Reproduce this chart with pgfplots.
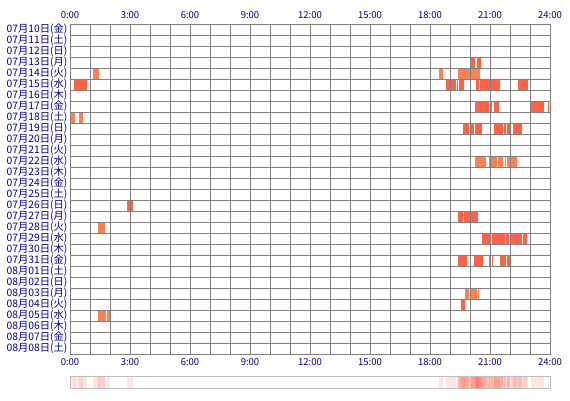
\documentclass[border=0pt]{standalone}
\usepackage{pgfplots}
\pgfplotsset{compat=1.18}
\usepackage{pgfplotstable}
\usepackage{fontspec}
\setmainfont{Noto Sans CJK JP}
\definecolor{barA}{RGB}{255,99,71}
\definecolor{barB}{RGB}{255,128,80}
\definecolor{gridc}{RGB}{128,128,128}
\definecolor{navyc}{RGB}{0,0,128}
\definecolor{heat}{RGB}{255,60,40}
\definecolor{stripc}{RGB}{190,190,190}

\pgfplotstableread{
s e r
20.05 20.27 3.5
20.35 20.53 3.5
0.2 0.83 5.5
18.8 19.03 5.5
19.07 19.3 5.5
19.35 19.42 5.5
19.47 19.72 5.5
20.3 20.43 5.5
20.5 21.0 5.5
21.02 21.5 5.5
22.42 22.88 5.5
20.25 20.97 7.5
21.03 21.1 7.5
21.2 21.43 7.5
23.05 23.72 7.5
23.9 23.97 7.5
19.65 19.97 9.5
20.02 20.2 9.5
20.25 20.6 9.5
21.2 21.65 9.5
21.7 21.8 9.5
21.85 22.0 9.5
22.15 22.6 9.5
2.85 3.03 16.5
3.07 3.15 16.5
19.4 19.63 17.5
19.7 20.0 17.5
20.05 20.4 17.5
20.62 21.0 19.5
21.1 21.75 19.5
21.8 21.95 19.5
22.0 22.6 19.5
22.65 22.87 19.5
19.4 19.87 21.5
20.2 20.67 21.5
20.95 21.07 21.5
21.1 21.15 21.5
21.5 21.8 21.5
21.85 22.0 21.5
19.55 19.73 25.5
}\darkbars

\pgfplotstableread{
s e r
1.17 1.45 4.5
18.45 18.63 4.5
19.4 20.5 4.5
0.05 0.25 8.5
0.45 0.63 8.5
20.25 20.8 12.5
20.97 21.33 12.5
21.42 21.67 12.5
21.75 21.8 12.5
21.87 22.0 12.5
22.07 22.33 12.5
1.4 1.73 18.5
19.75 19.95 24.5
20.02 20.33 24.5
20.38 20.43 24.5
1.4 1.8 26.5
1.85 1.98 26.5
}\lightbars

\begin{document}
\begin{tikzpicture}
\path[use as bounding box] (0pt,0pt) rectangle (570pt,400pt);
\begin{axis}[
  at={(70pt,376pt)}, anchor=north west,
  scale only axis, width=480pt, height=330pt,
  xmin=0, xmax=24, ymin=0, ymax=30, y dir=reverse,
  xtick={0,3,6,9,12,15,18,21,24},
  xticklabels={0:00,3:00,6:00,9:00,12:00,15:00,18:00,21:00,24:00},
  minor xtick={0,1,...,24},
  ytick={0.5,1.5,2.5,3.5,4.5,5.5,6.5,7.5,8.5,9.5,10.5,11.5,12.5,13.5,14.5,15.5,16.5,17.5,18.5,19.5,20.5,21.5,22.5,23.5,24.5,25.5,26.5,27.5,28.5,29.5},
  yticklabels={07月10日(金),07月11日(土),07月12日(日),07月13日(月),07月14日(火),07月15日(水),07月16日(木),07月17日(金),07月18日(土),07月19日(日),07月20日(月),07月21日(火),07月22日(水),07月23日(木),07月24日(金),07月25日(土),07月26日(日),07月27日(月),07月28日(火),07月29日(水),07月30日(木),07月31日(金),08月01日(土),08月02日(日),08月03日(月),08月04日(火),08月05日(水),08月06日(木),08月07日(金),08月08日(土)},
  minor ytick={0,1,...,30},
  xmajorgrids, xminorgrids, yminorgrids, ymajorgrids=false,
  major grid style={gridc, line width=1pt},
  minor grid style={gridc, line width=1pt},
  axis line style={gridc, line width=1pt},
  major tick length=0pt, minor tick length=0pt,
  ticklabel style={text=navyc, font=\fontsize{9.5}{10}\selectfont},
  xticklabel style={yshift=-1pt},
  yticklabel style={xshift=1pt, font=\fontsize{10.3}{10}\selectfont},
  axis on top,
]
\addplot[draw=none, mark=none, error bars/.cd, x dir=plus, x explicit, error mark=none,
  error bar style={line width=10pt, draw=barA}]
  table[x=s, y=r, x error expr=\thisrow{e}-\thisrow{s}] {\darkbars};
\addplot[draw=none, mark=none, error bars/.cd, x dir=plus, x explicit, error mark=none,
  error bar style={line width=10pt, draw=barB}]
  table[x=s, y=r, x error expr=\thisrow{e}-\thisrow{s}] {\lightbars};
\end{axis}
\begin{axis}[
  at={(70pt,376pt)}, anchor=north west,
  scale only axis, width=480pt, height=330pt,
  xmin=0, xmax=24, ymin=0, ymax=30,
  xtick={0,3,6,9,12,15,18,21,24},
  xticklabels={0:00,3:00,6:00,9:00,12:00,15:00,18:00,21:00,24:00},
  xticklabel pos=upper, ytick=\empty,
  axis line style={draw=none},
  major tick length=0pt,
  ticklabel style={text=navyc, font=\fontsize{9.5}{10}\selectfont},
  xticklabel style={yshift=2pt},
]
\end{axis}
\begin{axis}[
  at={(70pt,24pt)}, anchor=north west,
  scale only axis, width=480pt, height=12pt,
  xmin=0, xmax=24, ymin=0, ymax=1,
  xtick=\empty, ytick=\empty,
  axis line style={draw=stripc, line width=1pt},
  axis on top,
]
\addplot[draw=none, mark=none, error bars/.cd, x dir=plus, x explicit, error mark=none,
  error bar style={line width=12pt, draw=heat, draw opacity=0.13}]
  table[x=s, y expr=0.5, x error expr=\thisrow{e}-\thisrow{s}] {\darkbars};
\addplot[draw=none, mark=none, error bars/.cd, x dir=plus, x explicit, error mark=none,
  error bar style={line width=12pt, draw=heat, draw opacity=0.13}]
  table[x=s, y expr=0.5, x error expr=\thisrow{e}-\thisrow{s}] {\lightbars};
\end{axis}
\end{tikzpicture}
\end{document}
